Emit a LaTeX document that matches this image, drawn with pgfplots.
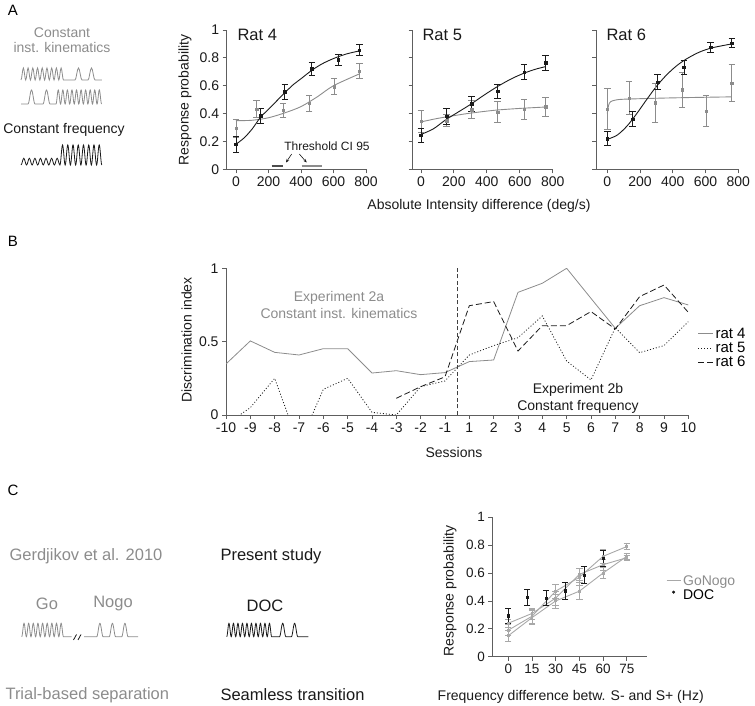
\documentclass[border=0pt]{standalone}
\usepackage{pgfplots}
\pgfplotsset{compat=1.18}
\usepackage{fontspec}
\setmainfont{Liberation Sans}
\usetikzlibrary{arrows.meta}
\definecolor{dk}{HTML}{1A1A1A}
\definecolor{gr}{HTML}{8C8C8C}
\definecolor{lg}{HTML}{A8A8A8}
\definecolor{ax}{HTML}{5E5E5E}
\newcommand{\fa}{\fontsize{14}{16.8}\selectfont}
\newcommand{\fb}{\fontsize{16.5}{19.8}\selectfont}
\newcommand{\fc}{\fontsize{12}{14.4}\selectfont}
\newcommand{\fd}{\fontsize{15}{18}\selectfont}
\pgfplotsset{
  base/.style={scale only axis, anchor=south west, axis lines*=left,
    axis line style={ax, line width=0.8pt},
    every tick/.style={ax, line width=0.8pt},
    tick align=outside, major tick length=4pt,
    tick label style={font=\fa, text=dk},
    /pgf/number format/assume math mode=true},
  errs/.style={/pgfplots/error bars/y dir=both, /pgfplots/error bars/y explicit,
    /pgfplots/error bars/error bar style={line width=0.8pt, #1},
    /pgfplots/error bars/error mark options={rotate=90, mark size=3.2pt, line width=0.8pt, #1}},
  blk/.style={dk, only marks, mark=square*, mark size=1.3pt, errs=dk},
  gry/.style={gr, only marks, mark=square*, mark size=1.2pt, errs=gr},
  bcurve/.style={dk, line width=0.9pt, smooth, no marks},
  gcurve/.style={gr, line width=0.9pt, smooth, no marks},
  lineleg/.style={legend image code/.code={\draw[##1] (0pt,0pt) -- (14pt,0pt);}},
  dotleg/.style={legend image code/.code={\draw[##1] plot coordinates {(7pt,3pt)};}},
}
\begin{document}
\begin{tikzpicture}[x=1pt,y=1pt]
\useasboundingbox (0,0) rectangle (755,706);

% ---------------- Panel A ----------------
\node[font=\fd] at (13,696) {A};
\node[font=\fa, text=gr] at (62,673) {Constant};
\node[font=\fa, text=gr] at (62,658) {inst. kinematics};
\node[font=\fa, text=dk] at (64,576) {Constant frequency};
\draw[gr, line width=0.8pt] (21,626) \foreach \i in {1,...,9}{ cos ++(1.18,6) sin ++(1.18,6) cos ++(1.18,-6) sin ++(1.18,-6) }
  -- ++(11.5,0) cos ++(1.75,6) sin ++(1.75,6) cos ++(1.75,-6) sin ++(1.75,-6)
  -- ++(6,0) cos ++(1.75,6) sin ++(1.75,6) cos ++(1.75,-6) sin ++(1.75,-6) -- ++(7,0);
\draw[gr, line width=0.8pt] (21,602) -- ++(7,0) cos ++(1.75,7) sin ++(1.75,7) cos ++(1.75,-7) sin ++(1.75,-7)
  -- ++(8,0) cos ++(1.75,7) sin ++(1.75,7) cos ++(1.75,-7) sin ++(1.75,-7) -- ++(6,0)
  \foreach \i in {1,...,10}{ cos ++(1.14,7) sin ++(1.14,7) cos ++(1.14,-7) sin ++(1.14,-7) };
\draw[dk, line width=0.8pt] (21,541) \foreach \i in {1,...,7}{ cos ++(1.39,3.35) sin ++(1.39,3.35) cos ++(1.39,-3.35) sin ++(1.39,-3.35) }
  \foreach \i in {1,...,8}{ cos ++(1.31,10) sin ++(1.31,10) cos ++(1.31,-10) sin ++(1.31,-10) };

% Rat 4
\begin{axis}[base, at={(226.7pt,536.7pt)}, width=139.3pt, height=139.3pt,
  xmin=-57, xmax=800, ymin=0, ymax=1, xtick={0,200,400,600,800},
  ytick={0,0.2,0.4,0.6,0.8,1}, yticklabels={0,0.2,0.4,0.6,0.8,1}]
\addplot[gcurve] coordinates {(0,0.349) (100,0.352) (200,0.37) (300,0.405) (400,0.45) (500,0.52) (600,0.6) (760,0.685)};
\addplot[bcurve] coordinates {(0,0.18) (50,0.225) (100,0.29) (152,0.375) (200,0.43) (250,0.49) (301,0.55) (350,0.605) (400,0.65) (466,0.71) (530,0.757) (600,0.795) (680,0.828) (760,0.85)};
\addplot[gry] coordinates {(0,0.294) +- (0,0.066) (127,0.431) +- (0,0.06) (291,0.426) +- (0,0.05) (451,0.474) +- (0,0.056) (603,0.593) +- (0,0.057) (759,0.706) +- (0,0.051)};
\addplot[blk] coordinates {(0,0.179) +- (0,0.056) (152,0.383) +- (0,0.055) (301,0.557) +- (0,0.054) (466,0.72) +- (0,0.048) (630,0.785) +- (0,0.04) (759,0.856) +- (0,0.04)};
\addplot[black!70, line width=1.6pt] coordinates {(220,0.024) (291,0.024)};
\addplot[gr, line width=1.6pt] coordinates {(404,0.024) (527,0.024)};
\end{axis}

% Rat 5
\begin{axis}[base, at={(412.7pt,536.7pt)}, width=140pt, height=139.3pt,
  xmin=-50, xmax=800, ymin=0, ymax=1, xtick={0,200,400,600,800},
  ytick={0,0.2,0.4,0.6,0.8,1}, yticklabels={}]
\addplot[gcurve] coordinates {(0,0.34) (100,0.365) (200,0.385) (300,0.403) (450,0.424) (600,0.437) (757,0.447)};
\addplot[bcurve] coordinates {(0,0.25) (75,0.29) (150,0.355) (225,0.41) (300,0.465) (380,0.53) (466,0.595) (550,0.65) (626,0.69) (700,0.72) (757,0.737)};
\addplot[gry] coordinates {(0,0.345) +- (0,0.077) (156,0.35) +- (0,0.045) (308,0.429) +- (0,0.062) (466,0.41) +- (0,0.075) (626,0.431) +- (0,0.071) (757,0.448) +- (0,0.071)};
\addplot[blk] coordinates {(0,0.245) +- (0,0.051) (156,0.381) +- (0,0.058) (308,0.471) +- (0,0.055) (466,0.562) +- (0,0.051) (626,0.698) +- (0,0.054) (757,0.764) +- (0,0.054)};
\end{axis}

% Rat 6
\begin{axis}[base, at={(596pt,536.7pt)}, width=142.3pt, height=139.3pt,
  xmin=-69, xmax=800, ymin=0, ymax=1, xtick={0,200,400,600,800},
  ytick={0,0.2,0.4,0.6,0.8,1}, yticklabels={}]
\addplot[gcurve] coordinates {(0,0.40) (8,0.46) (20,0.485) (50,0.497) (100,0.503) (300,0.51) (500,0.515) (760,0.52)};
\addplot[bcurve] coordinates {(0,0.215) (60,0.245) (120,0.31) (180,0.4) (240,0.5) (300,0.595) (360,0.675) (420,0.74) (480,0.79) (560,0.84) (640,0.872) (760,0.9)};
\addplot[gry] coordinates {(0,0.431) +- (0,0.148) (133,0.512) +- (0,0.12) (292,0.479) +- (0,0.14) (456,0.571) +- (0,0.124) (603,0.417) +- (0,0.112) (760,0.617) +- (0,0.133)};
\addplot[blk] coordinates {(0,0.221) +- (0,0.052) (155,0.36) +- (0,0.054) (306,0.626) +- (0,0.055) (468,0.733) +- (0,0.05) (631,0.876) +- (0,0.036) (760,0.905) +- (0,0.032)};
\end{axis}

\node[font=\fb, anchor=west, text=dk] at (234,671) {Rat 4};
\node[font=\fb, anchor=west, text=dk] at (419,671) {Rat 5};
\node[font=\fb, anchor=west, text=dk] at (603,671) {Rat 6};
\node[font=\fa, rotate=90, text=dk] at (185,606) {Response probability};
\node[font=\fa, text=dk] at (479,500) {Absolute Intensity difference (deg/s)};
\node[font=\fc, text=dk] at (327,560) {Threshold CI 95};
\draw[dk, line width=0.6pt, -{Stealth[length=3.5pt,width=3pt]}] (291.7,552) -- (286,543.5);
\draw[dk, line width=0.6pt, -{Stealth[length=3.5pt,width=3pt]}] (299.3,552) -- (306.7,543.5);

% ---------------- Panel B ----------------
\node[font=\fd] at (13,465) {B};
\begin{axis}[base, at={(226pt,291pt)}, width=462.3pt, height=146.7pt,
  xmin=0, xmax=19, ymin=0, ymax=1, xtick={0,1,...,19},
  xticklabels={-10,-9,-8,-7,-6,-5,-4,-3,-2,-1,1,2,3,4,5,6,7,8,9,10},
  ytick={0,0.5,1}, yticklabels={0,0.5,1},
  legend style={at={(1.02,0.61)}, anchor=north west, draw=none, fill=none,
    font=\fd, row sep=-1.5pt, inner sep=0pt, cells={anchor=west}},
  legend image code/.code={\draw[#1] (0pt,0pt) -- (15pt,0pt);}]
\addplot[gr, line width=0.8pt] coordinates {(0,0.348) (1,0.505) (2,0.427) (3,0.409) (4,0.452) (5,0.452) (6,0.286) (7,0.302) (8,0.275) (9,0.289) (10,0.364) (11,0.375) (12,0.836) (13,0.898) (14,1.0) (15,0.795) (16,0.591) (17,0.745) (18,0.8) (19,0.75)};
\addlegendentry{rat 4}
\addplot[dk, line width=0.8pt, dash pattern=on 1pt off 2pt] coordinates {(0,-0.064) (1,0.05) (2,0.25) (3,-0.205) (4,0.175) (5,0.25) (6,0.018) (7,0) (8,0.193) (9,0.232) (10,0.409) (11,0.473) (12,0.527) (13,0.675) (14,0.368) (15,0.239) (16,0.595) (17,0.425) (18,0.473) (19,0.636)};
\addlegendentry{rat 5}
\addplot[dk, line width=0.8pt, dash pattern=on 6pt off 3pt] coordinates {(7,0.114) (8,0.193) (9,0.26) (10,0.745) (11,0.773) (12,0.436) (13,0.609) (14,0.609) (15,0.705) (16,0.586) (17,0.807) (18,0.886) (19,0.7)};
\addlegendentry{rat 6}
\addplot[black!75, line width=0.8pt, dash pattern=on 4pt off 2.5pt, forget plot] coordinates {(9.5,0) (9.5,1)};
\end{axis}
\node[font=\fa, rotate=90, text=dk] at (186.7,366) {Discrimination index};
\node[font=\fa, text=dk] at (454,253) {Sessions};
\node[font=\fa, text=gr] at (339,408) {Experiment 2a};
\node[font=\fa, text=gr] at (339,392.5) {Constant inst. kinematics};
\node[font=\fa, text=dk] at (578,316) {Experiment 2b};
\node[font=\fa, text=dk] at (578,299.5) {Constant frequency};

% ---------------- Panel C ----------------
\node[font=\fd] at (13,216) {C};
\node[font=\fb, text=gr, anchor=west] at (6,150) {Gerdjikov et al. 2010};
\node[font=\fb, text=dk] at (271,150) {Present study};
\node[font=\fb, text=gr] at (47,102) {Go};
\node[font=\fb, text=gr] at (113,102) {Nogo};
\node[font=\fb, text=dk] at (265,100) {DOC};
\node[font=\fb, text=gr, anchor=west] at (2,11) {Trial-based separation};
\node[font=\fb, text=dk, anchor=west] at (217,11) {Seamless transition};
\draw[gr, line width=0.8pt] (21.7,69.3) \foreach \i in {1,...,9}{ cos ++(1.16,6.7) sin ++(1.16,6.7) cos ++(1.16,-6.7) sin ++(1.16,-6.7) } -- (71.7,69.3);
\draw[dk, line width=0.8pt] (73.5,66) -- (76.5,71.5) (78,66) -- (81,71.5);
\draw[gr, line width=0.8pt] (84,69.3) -- (96.7,69.3) cos ++(1.6,6.7) sin ++(1.6,6.7) cos ++(1.6,-6.7) sin ++(1.6,-6.7)
  -- ++(6.1,0) cos ++(1.6,6.7) sin ++(1.6,6.7) cos ++(1.6,-6.7) sin ++(1.6,-6.7)
  -- ++(6.1,0) cos ++(1.6,6.7) sin ++(1.6,6.7) cos ++(1.6,-6.7) sin ++(1.6,-6.7) -- (138,69.3);
\draw[dk, line width=0.8pt] (226.7,69.3) \foreach \i in {1,...,10}{ cos ++(1.125,6.7) sin ++(1.125,6.7) cos ++(1.125,-6.7) sin ++(1.125,-6.7) }
  -- ++(7.8,0) cos ++(1.6,6.7) sin ++(1.6,6.7) cos ++(1.6,-6.7) sin ++(1.6,-6.7)
  -- ++(5.5,0) cos ++(1.6,6.7) sin ++(1.6,6.7) cos ++(1.6,-6.7) sin ++(1.6,-6.7) -- (308.3,69.3);

\begin{axis}[base, at={(492.3pt,49.3pt)}, width=155pt, height=139.4pt,
  xmin=-10.1, xmax=88, ymin=0, ymax=1, xtick={0,15,30,45,60,75},
  ytick={0,0.2,0.4,0.6,0.8,1}, yticklabels={0,0.2,0.4,0.6,0.8,1},
  tick label style={font=\fontsize{13.5}{16}\selectfont},
  legend style={at={(1.12,0.60)}, anchor=north west, draw=none, fill=none,
    font=\fa, row sep=-1pt, inner sep=0pt, cells={anchor=west}}]
\addlegendimage{lg, line width=1pt, lineleg}
\addlegendentry{\textcolor{gr}{GoNogo}}
\addlegendimage{dk, only marks, mark=*, mark size=1.3pt, dotleg}
\addlegendentry{DOC}
\addplot[lg, line width=0.9pt, mark=square*, mark size=0.9pt, errs=lg, forget plot] coordinates {(0,0.19) +- (0,0.04) (15,0.29) +- (0,0.05) (30,0.47) +- (0,0.05) (45,0.57) +- (0,0.06) (60,0.72) +- (0,0.05) (75,0.79) +- (0,0.02)};
\addplot[lg, line width=0.9pt, mark=square*, mark size=0.9pt, errs=lg, forget plot] coordinates {(0,0.24) +- (0,0.03) (15,0.31) +- (0,0.04) (30,0.42) +- (0,0.05) (45,0.59) +- (0,0.04) (60,0.66) +- (0,0.04) (75,0.71) +- (0,0.02)};
\addplot[lg, line width=0.9pt, mark=square*, mark size=0.9pt, errs=lg, forget plot] coordinates {(0,0.15) +- (0,0.04) (15,0.28) +- (0,0.05) (30,0.40) +- (0,0.05) (45,0.47) +- (0,0.06) (60,0.60) +- (0,0.04) (75,0.72) +- (0,0.02)};
\addplot[blk, forget plot] coordinates {(0,0.292) +- (0,0.056) (12,0.426) +- (0,0.057) (24,0.421) +- (0,0.056) (36,0.474) +- (0,0.06) (48,0.586) +- (0,0.06) (60,0.706) +- (0,0.057)};
\end{axis}
\node[font=\fa, rotate=90, text=dk] at (450,115) {Response probability};
\node[font=\fa, text=dk] at (570.7,9.3) {Frequency difference betw. S- and S+ (Hz)};
\end{tikzpicture}
\end{document}
